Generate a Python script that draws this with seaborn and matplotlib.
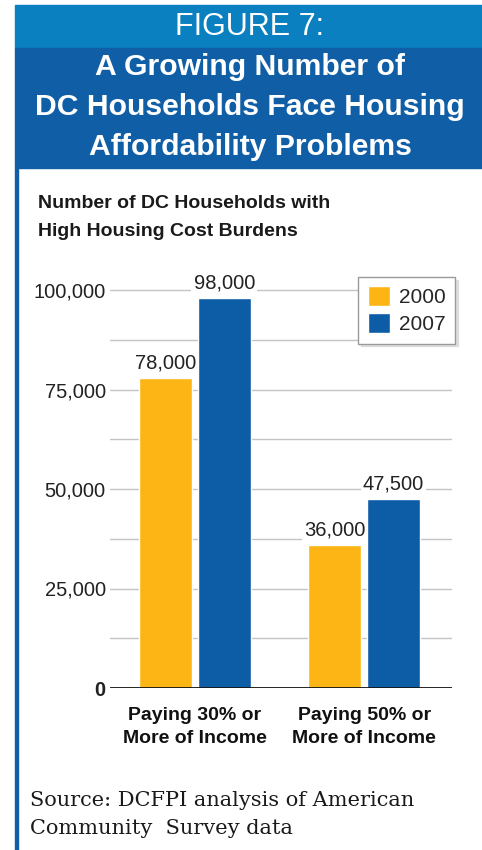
import matplotlib
matplotlib.use("Agg")
import matplotlib.pyplot as plt
import matplotlib.patches as mpatches
import seaborn as sns
import pandas as pd

categories = ["Paying 30% or\nMore of Income", "Paying 50% or\nMore of Income"]
years = ["2000", "2007"]
values_2000 = [78000, 36000]
values_2007 = [98000, 47500]
value_labels_2000 = ["78,000", "36,000"]
value_labels_2007 = ["98,000", "47,500"]
ytick_values = [0, 25000, 50000, 75000, 100000]
ytick_labels = ["0", "25,000", "50,000", "75,000", "100,000"]
grid_values = [12500, 25000, 37500, 50000, 62500, 75000, 87500, 100000]

sns.set_theme(style="white")
SANS = ["Liberation Sans", "DejaVu Sans"]
SERIF = ["DejaVu Serif", "Liberation Serif"]
plt.rcParams["font.family"] = SANS

W, H = 482, 850
fig = plt.figure(figsize=(W / 100, H / 100), dpi=100)
fig.patch.set_facecolor("white")

def fx(px):
    return px / W

def fy(py):
    return 1 - py / H

# banners
fig.patches.append(mpatches.Rectangle((fx(15), fy(48)), fx(482 - 15), (48 - 5) / H,
                                      transform=fig.transFigure, color="#0a80c0", zorder=0))
fig.patches.append(mpatches.Rectangle((fx(15), fy(168)), fx(482 - 15), (168 - 48) / H,
                                      transform=fig.transFigure, color="#105fa6", zorder=0))
fig.patches.append(mpatches.Rectangle((fx(15), 0), fx(3), fy(168),
                                      transform=fig.transFigure, color="#105fa6", zorder=0))

fig.text(fx(249), fy(27), "FIGURE 7:", color="white", fontsize=22, ha="center", va="center")
for i, line in enumerate(["A Growing Number of", "DC Households Face Housing",
                          "Affordability Problems"]):
    fig.text(fx(250), fy(67 + 40 * i), line, color="white", fontsize=21.7, fontweight="bold",
             ha="center", va="center")

fig.text(fx(38), fy(203), "Number of DC Households with", fontsize=14, fontweight="bold",
         ha="left", va="center", color="#1a1a1a")
fig.text(fx(38), fy(231), "High Housing Cost Burdens", fontsize=14, fontweight="bold",
         ha="left", va="center", color="#1a1a1a")

fig.text(fx(30), fy(800), "Source: DCFPI analysis of American", fontsize=15, ha="left",
         va="center", family=SERIF, color="#1a1a1a")
fig.text(fx(30), fy(828), "Community  Survey data", fontsize=15, ha="left",
         va="center", family=SERIF, color="#1a1a1a")

# axes: 0 at y=688, 100k at y=290
ymax = 110000
px_per = (688 - 290) / 100000
top_px = 688 - ymax * px_per
ax = fig.add_axes([fx(110), fy(688), fx(452 - 110), (688 - top_px) / H])
ax.set_facecolor("none")

df = pd.DataFrame({
    "category": categories * 2,
    "year": [years[0]] * 2 + [years[1]] * 2,
    "value": values_2000 + values_2007,
})
sns.barplot(data=df, x="category", y="value", hue="year", palette=["#fdb515", "#0d5ca6"],
            saturation=1, width=0.69, gap=0.09, ax=ax, zorder=3, legend=True)

for v in grid_values:
    ax.axhline(v, color="#c4c4c4", lw=1.0, zorder=1)
ax.axhline(0, color="#111111", lw=2.0, zorder=4)

ax.set_xlim(-0.503, 1.52)
ax.set_ylim(0, ymax)
ax.set_yticks(ytick_values)
ax.set_yticklabels(ytick_labels, fontsize=14.5, color="#222222")
ax.get_yticklabels()[0].set_fontweight("bold")
ax.tick_params(axis="y", length=0, pad=3)
ax.tick_params(axis="x", length=0, pad=14)
ax.set_xticks([0, 1])
ax.set_xticklabels(categories, fontsize=14, fontweight="bold", color="#111111",
                   linespacing=1.4)
ax.set_xlabel("")
ax.set_ylabel("")
for s in ax.spines.values():
    s.set_visible(False)

for cont, labs in zip(ax.containers, [value_labels_2000, value_labels_2007]):
    texts = ax.bar_label(cont, labels=labs, padding=4, fontsize=14.5, color="#222222")
    for t in texts:
        t.set_bbox(dict(facecolor="white", edgecolor="none", pad=1.5))
        t.set_zorder(5)

handles, labels = ax.get_legend_handles_labels()
leg = ax.legend(handles, labels, loc="upper right", bbox_to_anchor=(fx(455), fy(277)),
                bbox_transform=fig.transFigure, borderaxespad=0, fontsize=15, frameon=True,
                fancybox=False, shadow={"color": "#d0d0d0", "alpha": 0.6},
                handlelength=1.05, handleheight=1.05, handletextpad=0.45,
                borderpad=0.45, labelspacing=0.3)
leg.get_frame().set_edgecolor("#9a9a9a")
leg.get_frame().set_linewidth(1.0)
leg.get_frame().set_alpha(1)
leg.set_zorder(6)

fig.savefig("out.png", dpi=100)
